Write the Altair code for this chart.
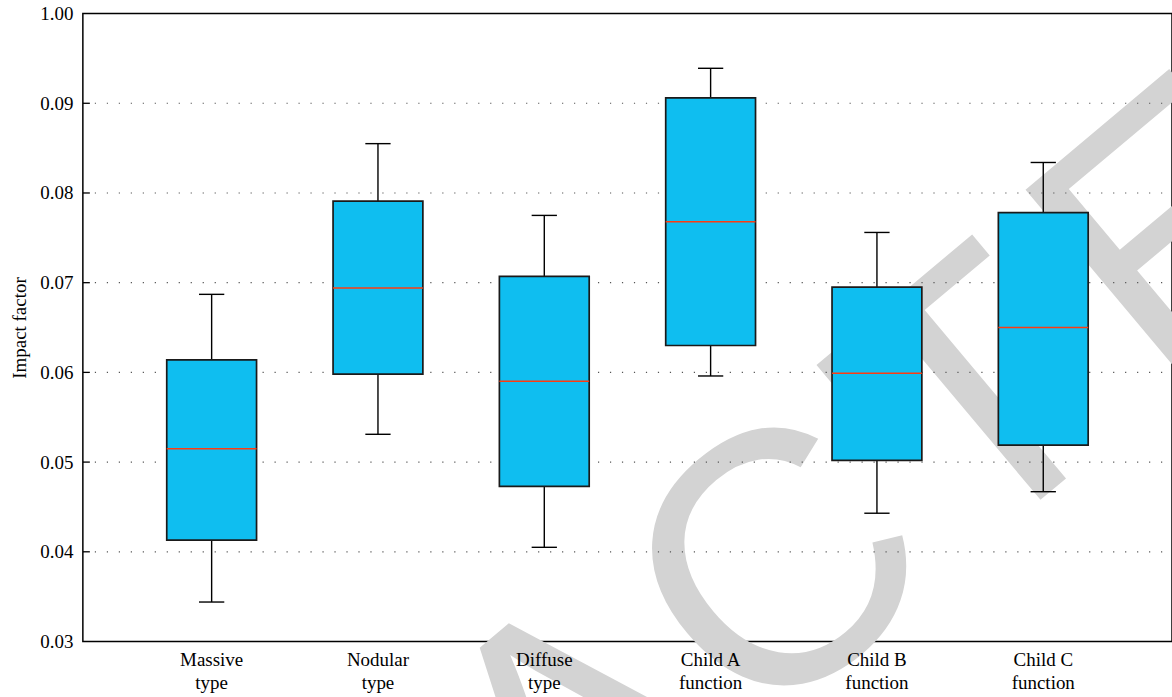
import altair as alt
import pandas as pd

# Box-plot summary statistics per group
categories = ["Massive type", "Nodular type", "Diffuse type",
              "Child A function", "Child B function", "Child C function"]
label_line1 = ["Massive", "Nodular", "Diffuse", "Child A", "Child B", "Child C"]
label_line2 = ["type", "type", "type", "function", "function", "function"]
whisker_low = [0.0344, 0.0531, 0.0405, 0.0596, 0.0443, 0.0467]
q1 = [0.0413, 0.0598, 0.0473, 0.0630, 0.0502, 0.0519]
median = [0.0515, 0.0694, 0.0590, 0.0768, 0.0599, 0.0650]
q3 = [0.0614, 0.0791, 0.0707, 0.0906, 0.0695, 0.0778]
whisker_high = [0.0687, 0.0855, 0.0775, 0.0939, 0.0756, 0.0834]

y_ticks = [0.03, 0.04, 0.05, 0.06, 0.07, 0.08, 0.09, 0.10]
grid_values = [0.04, 0.05, 0.06, 0.07, 0.08, 0.09]

# Diagonal watermark word, one letter per mark (only the part crossing the plot is kept)
watermark_word = "RETRACTED"
watermark_visible = [4, 7]

W, H = 1091, 629
FONT = "Liberation Serif"
BOX_HALF = 0.27
CAP_HALF = 0.076

pos = list(range(1, len(categories) + 1))
df = pd.DataFrame({
    "category": categories,
    "pos": pos,
    "left": [p - BOX_HALF for p in pos],
    "right": [p + BOX_HALF for p in pos],
    "cap_l": [p - CAP_HALF for p in pos],
    "cap_r": [p + CAP_HALF for p in pos],
    "low": whisker_low,
    "q1": q1,
    "median": median,
    "q3": q3,
    "high": whisker_high,
    "label": [f"{a}\n{b}" for a, b in zip(label_line1, label_line2)],
})
grid_df = pd.DataFrame({"v": grid_values})
wm_df = pd.DataFrame({"ch": list(watermark_word),
                      "i": list(range(len(watermark_word)))})

x_scale = alt.Scale(domain=[0.2257, 6.774], nice=False, zero=False)
y_scale = alt.Scale(domain=[0.03, 0.10], nice=False, zero=False)

base = alt.Chart(df)

# Watermark letters laid out along a rising diagonal (pixel layout)
watermark = alt.Chart(wm_df).transform_filter(
    alt.FieldRangePredicate(field="i", range=watermark_visible)
).transform_calculate(
    px="702 + (datum.i - 5) * 262 * cos(PI * 40 / 180)",
    py="562 - (datum.i - 5) * 262 * sin(PI * 40 / 180)",
).mark_text(
    font="Liberation Sans", fontSize=360, color="#d3d3d3", angle=320,
    align="center", baseline="middle"
).encode(
    x=alt.X("px:Q", scale=None), y=alt.Y("py:Q", scale=None), text="ch:N"
)

# Dotted horizontal grid lines
grid = alt.Chart(grid_df).mark_rule(
    color="#555555", strokeWidth=1.2, strokeDash=[1.2, 10.8]
).encode(
    y=alt.Y("v:Q", scale=y_scale,
            axis=alt.Axis(values=y_ticks, title="Impact factor", ticks=False,
                          domain=False, grid=False, labelPadding=10,
                          labelExpr="datum.value >= 0.0999 ? '1.00' : format(datum.value, '.2f')",
                          titlePadding=10, zindex=1)),
    x=alt.value(0), x2=alt.value(W),
)

# Inward tick marks on the left frame
ticks = alt.Chart(grid_df).mark_rule(color="black", strokeWidth=1.3).encode(
    y=alt.Y("v:Q", scale=y_scale), x=alt.value(0), x2=alt.value(7)
)

whisker = base.mark_rule(color="black", strokeWidth=1.4).encode(
    x=alt.X("pos:Q", scale=x_scale, axis=None),
    y=alt.Y("low:Q", scale=y_scale),
    y2="high:Q",
)
caps_low = base.mark_rule(color="black", strokeWidth=1.4).encode(
    x=alt.X("cap_l:Q", scale=x_scale), x2="cap_r:Q",
    y=alt.Y("low:Q", scale=y_scale),
)
caps_high = base.mark_rule(color="black", strokeWidth=1.4).encode(
    x=alt.X("cap_l:Q", scale=x_scale), x2="cap_r:Q",
    y=alt.Y("high:Q", scale=y_scale),
)
boxes = base.mark_rect(fill="#0fbef0", stroke="#1a1a1a", strokeWidth=1.7).encode(
    x=alt.X("left:Q", scale=x_scale), x2="right:Q",
    y=alt.Y("q1:Q", scale=y_scale), y2="q3:Q",
)
medians = base.mark_rule(color="#ff3b10", strokeWidth=1.5).encode(
    x=alt.X("left:Q", scale=x_scale), x2="right:Q",
    y=alt.Y("median:Q", scale=y_scale),
)
labels = base.mark_text(
    font=FONT, fontSize=19, color="black", align="center",
    baseline="alphabetic", lineBreak="\n", lineHeight=23
).encode(
    x=alt.X("pos:Q", scale=x_scale), y=alt.value(H + 25), text="label:N"
)

chart = alt.layer(
    watermark, grid, ticks, whisker, caps_low, caps_high, boxes, medians, labels
).properties(
    width=W, height=H,
    autosize=alt.AutoSizeParams(type="none"),
    padding={"left": 83, "top": 13, "right": 0, "bottom": 55},
    background="white",
).configure_view(
    stroke="black", strokeWidth=1.5
).configure_axis(
    labelFont=FONT, labelFontSize=19, labelColor="black",
    titleFont=FONT, titleFontSize=19, titleFontWeight="normal", titleColor="black",
)

chart.save("out.html", embed_options={"renderer": "svg", "actions": False})
